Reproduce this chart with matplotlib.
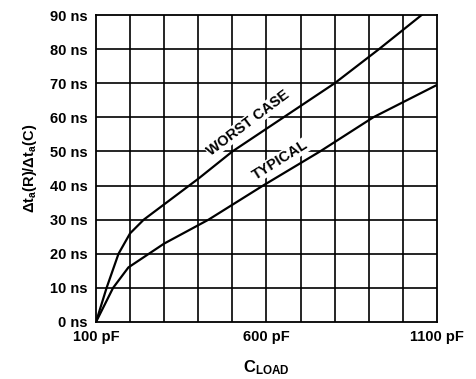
import matplotlib.pyplot as plt

plt.rcParams['font.family'] = 'Liberation Sans'
plt.rcParams['font.weight'] = 'bold'
plt.rcParams['mathtext.fontset'] = 'custom'
plt.rcParams['mathtext.rm'] = 'Liberation Sans:weight=bold'
plt.rcParams['mathtext.it'] = 'Liberation Sans:weight=bold'
plt.rcParams['mathtext.bf'] = 'Liberation Sans:weight=bold'

# curves (pF, ns)
worst_c = [100, 131, 166, 200, 240, 400, 500, 650, 800, 930, 1055]
worst_t = [0, 10, 20, 26, 30, 42, 50, 60, 70, 80, 90]
typ_c = [100, 150, 195, 300, 430, 590, 757, 913, 1100]
typ_t = [0, 10, 16, 23, 30, 40, 50, 60, 69.5]

y_ticks = [0, 10, 20, 30, 40, 50, 60, 70, 80, 90]
x_labels = [100, 600, 1100]

fig = plt.figure(figsize=(4.76, 3.79), dpi=100)
ax = fig.add_axes([0.2017, 0.1504, 0.7163, 0.8100])

ax.set_xlim(100, 1100)
ax.set_ylim(0, 90)
for x in range(200, 1100, 100):
    ax.axvline(x, color='black', lw=1.2, zorder=1)
for y in y_ticks[1:-1]:
    ax.axhline(y, color='black', lw=1.2, zorder=1)
for s in ax.spines.values():
    s.set_linewidth(1.3)

ax.plot(worst_c, worst_t, color='black', lw=1.6, zorder=3)
ax.plot(typ_c, typ_t, color='black', lw=1.6, zorder=3)

ax.set_xticks(x_labels)
ax.set_xticklabels([f'{v} pF' for v in x_labels], fontsize=10.5, fontweight='bold')
ax.set_yticks(y_ticks)
ax.set_yticklabels([f'{v} ns' for v in y_ticks], fontsize=10.5, fontweight='bold')
ax.tick_params(length=0)
ax.tick_params(axis='x', pad=6)
ax.tick_params(axis='y', pad=6)

ax.set_xlabel(r'$\mathbf{C_{LOAD}}$', fontsize=12, labelpad=10)
ax.set_ylabel(r'$\mathbf{\Delta t_a(R)/\Delta t_a(C)}$', fontsize=10.5, labelpad=8)

box = dict(facecolor='white', edgecolor='none', pad=0.5)
ax.text(546, 58.3, 'WORST CASE', rotation=37, ha='center', va='center',
        fontsize=10.5, fontweight='bold', bbox=box, zorder=4)
ax.text(641, 47.5, 'TYPICAL', rotation=32, ha='center', va='center',
        fontsize=10.5, fontweight='bold', bbox=box, zorder=4)

fig.savefig('out.png', dpi=100)
